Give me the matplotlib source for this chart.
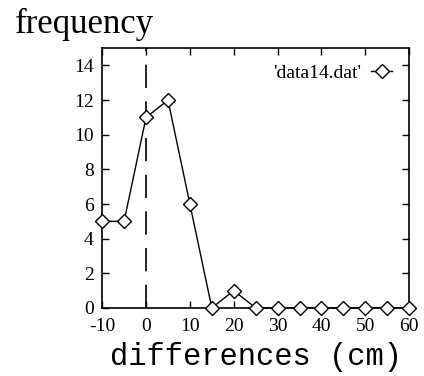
import matplotlib.pyplot as plt

# values
diffs = [-10, -5, 0, 5, 10, 15, 20, 25, 30, 35, 40, 45, 50, 55, 60]
freq = [5, 5, 11, 12, 6, 0, 1, 0, 0, 0, 0, 0, 0, 0, 0]
xticks = [-10, 0, 10, 20, 30, 40, 50, 60]
yticks = [0, 2, 4, 6, 8, 10, 12, 14]

plt.rcParams['font.family'] = 'Liberation Serif'
plt.rcParams['axes.unicode_minus'] = False

fig = plt.figure(figsize=(4.24, 3.76), dpi=100)
ax = fig.add_axes([0.241, 0.181, 0.724, 0.691])

ax.plot(diffs, freq, color='black', linewidth=1, marker='D', markersize=7.5,
        markerfacecolor='white', markeredgecolor='black', markeredgewidth=1,
        label="'data14.dat'", clip_on=False, zorder=3)
ax.axvline(0, color='black', linewidth=1.2, dashes=(14, 8))

ax.set_xlim(-10, 60)
ax.set_ylim(0, 15)
ax.set_xticks(xticks)
ax.set_yticks(yticks)
ax.tick_params(direction='in', top=True, right=True, length=5, width=1,
               labelsize=14)
ax.tick_params(axis='x', pad=7)
ax.tick_params(axis='y', pad=6)
for s in ax.spines.values():
    s.set_linewidth(1.2)

ax.legend(loc='center right', bbox_to_anchor=(0.945, 0.904), frameon=False,
          markerfirst=False, fontsize=14, handlelength=1.1,
          handletextpad=0.5, borderpad=0, borderaxespad=0)

ax.set_xlabel('differences (cm)', family='Liberation Mono', fontsize=22,
              labelpad=5)
fig.text(0.035, 0.98, 'frequency', fontsize=25, va='top', ha='left')

fig.savefig('out.png', dpi=100)
